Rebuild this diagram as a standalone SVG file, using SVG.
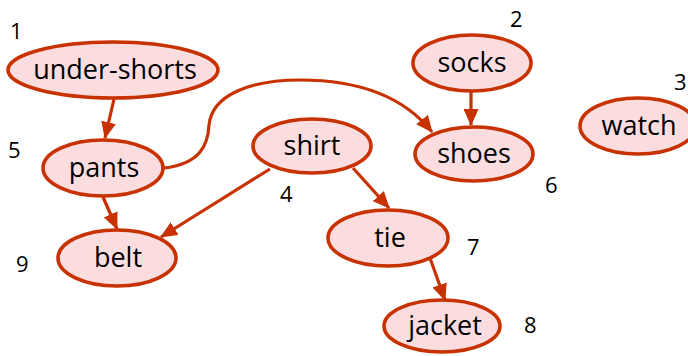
<svg xmlns="http://www.w3.org/2000/svg" width="688" height="356" viewBox="0 0 688 356">
<style>
.node ellipse{fill:#fbdde0;stroke:#c83200;stroke-width:3.6}
.node text{font-family:"Open Sans","DejaVu Sans",sans-serif;font-size:27px;fill:#000;text-anchor:middle}
.num{font-family:"Open Sans","DejaVu Sans",sans-serif;font-size:22px;fill:#000}
.edges path{fill:none;stroke:#c83200;stroke-width:3.2;marker-end:url(#arr)}
</style>
<defs>
<marker id="arr" viewBox="0 0 17 15" markerWidth="17" markerHeight="15" refX="16" refY="7.5" orient="auto" markerUnits="userSpaceOnUse">
<path d="M0,0 L17,7.5 L0,15 z" fill="#c83200"/>
</marker>
</defs>
<rect width="688" height="356" fill="#fff"/>
<g class="edges">
<path d="M114,99 L105,138"/>
<path d="M103,197 L117,229"/>
<path d="M270,169 L161,237"/>
<path d="M164,168 C200,164 208,145 209,125 C212,95 250,80 300,80 C360,80 405,98 432,132"/>
<path d="M471,92 L471,125"/>
<path d="M353,168 L389,208"/>
<path d="M430,258 L445,300"/>
</g>
<g id="under-shorts" class="node"><ellipse cx="113" cy="70" rx="105" ry="28"/><text x="115" y="79">under-shorts</text></g>
<g id="socks" class="node"><ellipse cx="472" cy="63" rx="59" ry="28"/><text x="472" y="72">socks</text></g>
<g id="watch" class="node"><ellipse cx="638" cy="126" rx="58" ry="28"/><text x="639" y="135">watch</text></g>
<g id="pants" class="node"><ellipse cx="103" cy="168" rx="60" ry="28"/><text x="104" y="177">pants</text></g>
<g id="shirt" class="node"><ellipse cx="312" cy="146" rx="59" ry="27"/><text x="312" y="155">shirt</text></g>
<g id="shoes" class="node"><ellipse cx="474" cy="154" rx="59" ry="27"/><text x="474" y="163">shoes</text></g>
<g id="belt" class="node"><ellipse cx="117" cy="258" rx="59" ry="28"/><text x="118" y="267">belt</text></g>
<g id="tie" class="node"><ellipse cx="388" cy="238" rx="60" ry="28"/><text x="390" y="247">tie</text></g>
<g id="jacket" class="node"><ellipse cx="442" cy="326" rx="58" ry="26"/><text x="445" y="335">jacket</text></g>
<g id="numbers">
<text class="num" x="10" y="39">1</text>
<text class="num" x="510" y="27">2</text>
<text class="num" x="674" y="90">3</text>
<text class="num" x="280" y="202">4</text>
<text class="num" x="8" y="158">5</text>
<text class="num" x="545" y="193">6</text>
<text class="num" x="467" y="255">7</text>
<text class="num" x="524" y="333">8</text>
<text class="num" x="16" y="272">9</text>
</g>
</svg>
